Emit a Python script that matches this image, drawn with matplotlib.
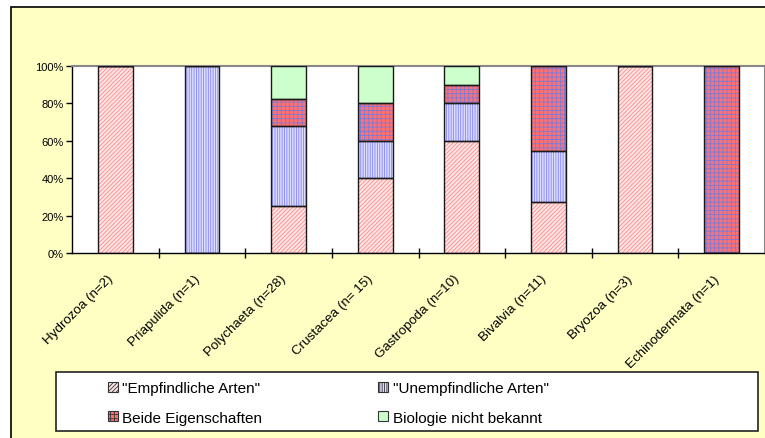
import matplotlib.pyplot as plt
import matplotlib.patches as mpatches
import numpy as np

plt.rcParams['font.family'] = ['Liberation Sans', 'DejaVu Sans']
plt.rcParams['hatch.linewidth'] = 0.6

# data (share of species in %)
groups = ['Hydrozoa (n=2)', 'Priapulida (n=1)', 'Polychaeta (n=28)', 'Crustacea (n= 15)',
          'Gastropoda (n=10)', 'Bivalvia (n=11)', 'Bryozoa (n=3)', 'Echinodermata (n=1)']
empfindlich = [100, 0, 25.0, 40, 60, 27.3, 100, 0]
unempfindlich = [0, 100, 42.9, 20, 20, 27.3, 0, 0]
beide = [0, 0, 14.3, 20, 10, 45.4, 0, 100]
unbekannt = [0, 0, 17.8, 20, 10, 0, 0, 0]

series = [
    ('"Empfindliche Arten"', empfindlich, '#FFE4E4', '#FF8C8C', '////////'),
    ('"Unempfindliche Arten"', unempfindlich, '#DCDCFF', '#8484FF', '|||||||'),
    ('Beide Eigenschaften', beide, '#FF7070', '#7A7AD8', '++++'),
    ('Biologie nicht bekannt', unbekannt, '#CCFFCC', '#CCFFCC', None),
]

fig = plt.figure(figsize=(7.65, 4.39), dpi=100)
fig.patch.set_facecolor('white')

# yellow chart area with black frame
fig.patches.append(mpatches.Rectangle((11 / 765, -0.02), 1.0, (439 - 8) / 439 + 0.02,
                                      transform=fig.transFigure, facecolor='#FFFFC4',
                                      edgecolor='black', linewidth=1.2, zorder=-2))

ax = fig.add_axes([72 / 765, (439 - 254) / 439, 1 - 72 / 765, (254 - 67) / 439])
ax.set_facecolor('white')

x = np.arange(len(groups))
width = 0.4
bottom = np.zeros(len(groups))
handles = []
for label, vals, face, hcol, hatch in series:
    vals = np.array(vals)
    ax.bar(x, vals, width, bottom=bottom, color=face, edgecolor=hcol, hatch=hatch,
           linewidth=0, zorder=2)
    ax.bar(x, vals, width, bottom=bottom, fill=False, edgecolor='#1a1a1a',
           linewidth=1.0, zorder=3)
    bottom += vals
    handles.append(mpatches.Patch(facecolor=face, edgecolor=hcol, hatch=hatch, linewidth=0))

ax.set_xlim(-0.5, len(groups) - 0.5)
ax.set_ylim(0, 100)
ax.set_yticks([0, 20, 40, 60, 80, 100])
ax.set_yticklabels(['%d%%' % v for v in [0, 20, 40, 60, 80, 100]], fontsize=8)
ax.tick_params(axis='y', length=4, width=1, pad=2)

ax.set_xticks(x[:-1] + 0.5)
ax.set_xticklabels([])
ax.tick_params(axis='x', which='major', direction='inout', length=7, width=1)
ax.set_xticks(x, minor=True)
ax.set_xticklabels(groups, minor=True, rotation=45, ha='right', va='bottom',
                   rotation_mode='anchor', fontsize=9.6)
ax.tick_params(axis='x', which='minor', length=0, pad=20)

for s in ['top', 'right']:
    ax.spines[s].set_color('#888888')
    ax.spines[s].set_linewidth(1.5)
for s in ['left', 'bottom']:
    ax.spines[s].set_color('black')
    ax.spines[s].set_linewidth(1)

# legend box
fig.patches.append(mpatches.Rectangle((56 / 765, (439 - 432) / 439), (758 - 56) / 765,
                                      (432 - 373) / 439, transform=fig.transFigure,
                                      facecolor='white', edgecolor='#222222',
                                      linewidth=1.2, zorder=-1))
order = [0, 2, 1, 3]
leg = fig.legend([handles[i] for i in order], [series[i][0] for i in order],
                 loc='center left', bbox_to_anchor=(94 / 765, (439 - 404) / 439),
                 ncol=2, frameon=False, fontsize=11, handlelength=0.65, handleheight=0.65,
                 handletextpad=0.3, columnspacing=7.6, labelspacing=1.0)
for h in leg.legend_handles:
    h.set_edgecolor('#333333')
    h.set_linewidth(0.8)

fig.savefig('out.png', dpi=100)
